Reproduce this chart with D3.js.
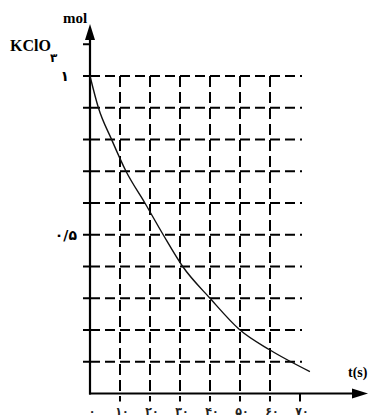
<!DOCTYPE html>
<html><head><meta charset="utf-8">
<script src="https://cdn.jsdelivr.net/npm/d3@7"></script>
<style>html,body{margin:0;padding:0;background:#fff;}svg{display:block;}</style>
</head><body>
<script>
const timeTicks = [0,10,20,30,40,50,60,70];
const timeTickLabels = ["۰","۱۰","۲۰","۳۰","۴۰","۵۰","۶۰","۷۰"];
const molGrid = [0.1,0.2,0.3,0.4,0.5,0.6,0.7,0.8,0.9,1.0];
const molTicks = [0.1,0.2,0.3,0.4,0.5,0.6,0.7,0.8,0.9,1.0,1.1];
const molLabels = [{v:1.0,t:"۱"},{v:0.5,t:"۰/۵"}];
const curveT = [0,2.8,7.2,12,18.3,24.4,30.9,40,50,60,73.3];
const curveMol = [1.0,0.9,0.8,0.7,0.6,0.5,0.4,0.3,0.2,0.137,0.069];

const W=369,H=420;
const svg=d3.select("body").append("svg").attr("width",W).attr("height",H);
const x=d3.scaleLinear().domain([0,70]).range([90,300]);
const y=d3.scaleLinear().domain([0,1]).range([393.5,76]);
const serif="'Liberation Serif','Times New Roman',serif";

// horizontal dashed grid
svg.append("g").selectAll("line").data(molGrid).join("line")
  .attr("x1",x(0)).attr("x2",x(70)+2).attr("y1",d=>y(d)).attr("y2",d=>y(d))
  .attr("stroke","#000").attr("stroke-width",2).attr("stroke-dasharray","10,5");
// vertical dashed grid
svg.append("g").selectAll("line").data(timeTicks.filter(d=>d>0&&d<70)).join("line")
  .attr("x1",d=>x(d)).attr("x2",d=>x(d)).attr("y1",y(1)).attr("y2",y(0)+8)
  .attr("stroke","#000").attr("stroke-width",2).attr("stroke-dasharray","11,5");
// tick at 70
svg.append("line").attr("x1",x(70)).attr("x2",x(70)).attr("y1",y(0)).attr("y2",y(0)+8)
  .attr("stroke","#000").attr("stroke-width",2);
// y ticks
svg.append("g").selectAll("line").data(molTicks).join("line")
  .attr("x1",x(0)-7).attr("x2",x(0)).attr("y1",d=>y(d)).attr("y2",d=>y(d))
  .attr("stroke","#000").attr("stroke-width",2);

// axes
svg.append("line").attr("x1",x(0)).attr("x2",x(0)).attr("y1",y(0)+1).attr("y2",36)
  .attr("stroke","#000").attr("stroke-width",2.2);
svg.append("path").attr("d",`M${x(0)},24 L${x(0)-5},40 L${x(0)+5},40 Z`).attr("fill","#000");
svg.append("line").attr("x1",x(0)-1).attr("x2",356).attr("y1",y(0)).attr("y2",y(0))
  .attr("stroke","#000").attr("stroke-width",2.2);
svg.append("path").attr("d",`M368,${y(0)} L352,${y(0)-5} L352,${y(0)+5} Z`).attr("fill","#000");

// curve
const pts=curveT.map((t,i)=>[x(t),y(curveMol[i])]);
svg.append("path").attr("d",d3.line().curve(d3.curveMonotoneX)(pts))
  .attr("fill","none").attr("stroke","#111").attr("stroke-width",1.4);

// x tick labels
svg.append("g").selectAll("text").data(timeTicks).join("text")
  .attr("x",d=>x(d)+2).attr("y",415).attr("text-anchor","middle")
  .attr("font-family","'DejaVu Sans',sans-serif").attr("font-size",11).attr("font-weight","bold")
  .attr("fill","#222").attr("letter-spacing",1.5)
  .text((d,i)=>timeTickLabels[i]);
// y labels
svg.append("g").selectAll("text").data(molLabels).join("text")
  .attr("x",d=>d.v===1?69:77).attr("y",d=>y(d.v)+5).attr("text-anchor","end")
  .attr("font-family","'DejaVu Sans',sans-serif").attr("font-size",14).attr("font-weight","bold")
  .attr("letter-spacing",d=>d.v===1?0:2)
  .attr("direction","ltr")
  .text(d=>d.t);

// titles
svg.append("text").attr("x",63).attr("y",23).attr("font-family",serif).attr("font-weight","bold")
  .attr("font-size",15).text("mol");
svg.append("text").attr("x",10).attr("y",51).attr("font-family",serif).attr("font-weight","bold")
  .attr("font-size",16).text("KClO");
svg.append("text").attr("x",50).attr("y",62).attr("font-family","'DejaVu Sans',sans-serif").attr("font-weight","bold")
  .attr("font-size",12).text("۳");
svg.append("text").attr("x",348).attr("y",377).attr("font-family",serif).attr("font-weight","bold")
  .attr("font-size",14).text("t(s)");
</script>
</body></html>
